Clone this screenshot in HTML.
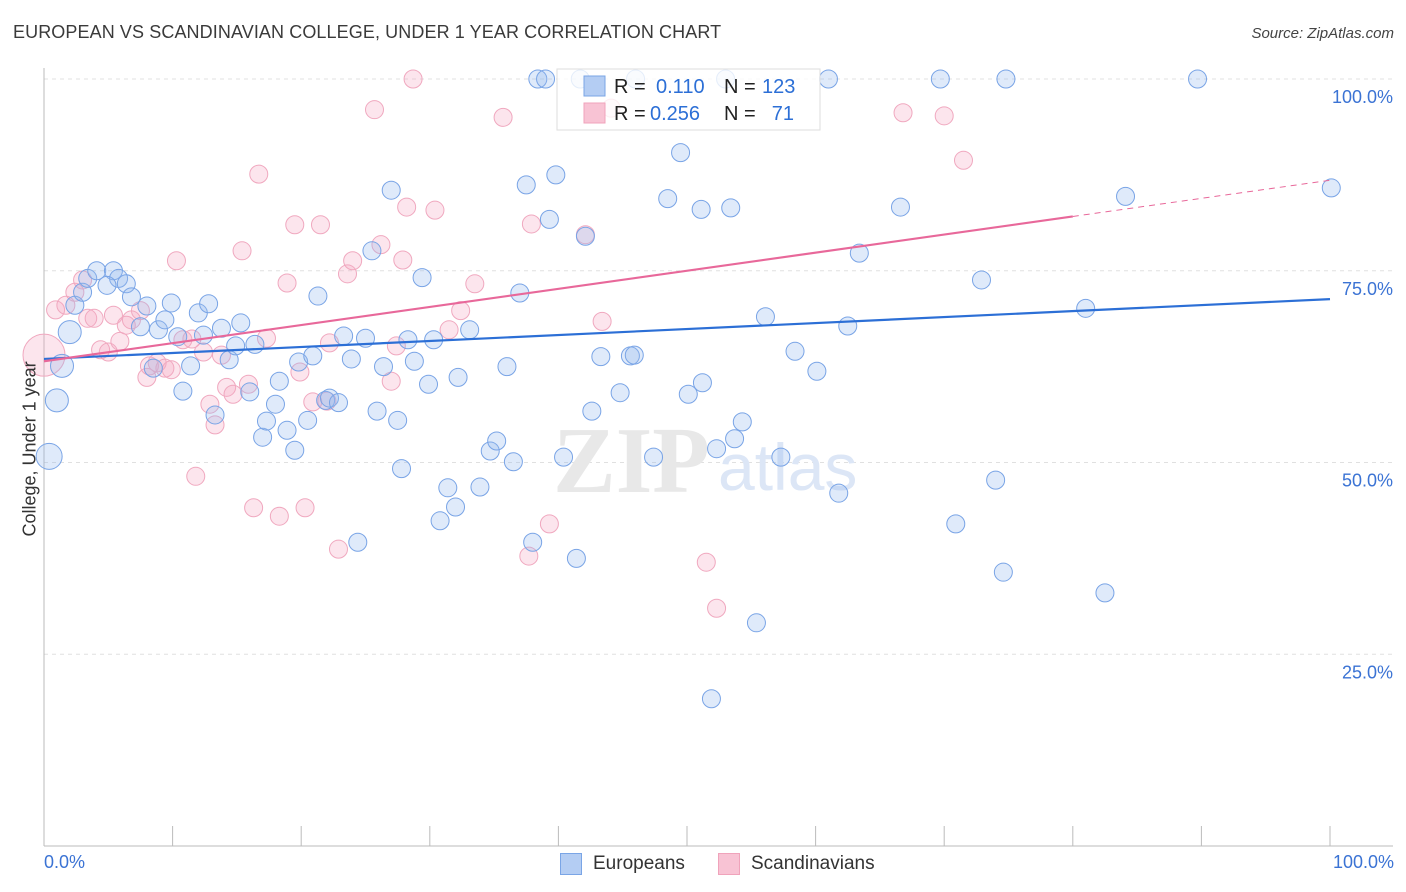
<!DOCTYPE html>
<html><head><meta charset="utf-8"><style>
body{margin:0;background:#fff;font-family:"Liberation Sans",sans-serif;}
#wrap{position:relative;width:1406px;height:892px;overflow:hidden;}
.t{position:absolute;white-space:nowrap;}
</style></head><body><div id="wrap">
<div class="t" style="left:13px;top:22px;font-size:18px;color:#3a3a3a;letter-spacing:0.1px">EUROPEAN VS SCANDINAVIAN COLLEGE, UNDER 1 YEAR CORRELATION CHART</div>
<div class="t" style="right:12px;top:25px;font-size:15px;color:#444;font-style:italic">Source: ZipAtlas.com</div>
<svg id="svg" width="1406" height="892" style="position:absolute;left:0;top:0"></svg>
</div>
<script>
const yTicks=[100,75,50,25];
const yTickLabels=["100.0%","75.0%","50.0%","25.0%"];
const euroX=[0.4,1,1.4,2,2.4,3,3.4,4.1,5.4,5.8,4.9,6.4,6.8,7.5,8,8.5,8.9,9.4,9.9,10.4,10.8,11.4,12,12.4,12.8,13.3,13.8,14.4,14.9,15.3,16,16.4,17,17.3,18,18.3,18.9,19.5,19.8,20.5,20.9,21.3,21.9,22.2,22.9,23.3,23.9,24.4,25,25.5,25.9,26.4,27,27.5,27.8,28.3,28.8,29.4,29.9,30.3,30.8,31.4,32,32.2,33.1,33.9,34.7,35.2,36,36.5,37,37.5,38,38.4,39,39.3,39.8,40.4,41.4,41.7,42.1,42.6,43.3,44.8,45.6,45.9,46,47.4,48.5,49.5,50.1,51.1,51.2,51.9,52.3,53,53.4,53.7,54.3,55.4,56.1,57.3,58.4,60.1,61,61.8,62.5,63.4,66.6,69.7,70.9,72.9,74,74.6,74.8,81,82.5,84.1,89.7,100.1];
const euroY=[50.8,58.1,62.6,67,70.5,72.2,74,75,75,74,73.1,73.3,71.6,67.7,70.4,62.3,67.3,68.6,70.8,66.4,59.3,62.6,69.5,66.6,70.7,56.2,67.5,63.4,65.2,68.2,59.2,65.4,53.3,55.4,57.6,60.6,54.2,51.6,63.1,55.5,63.9,71.7,58.1,58.4,57.8,66.5,63.5,39.6,66.2,77.6,56.7,62.5,85.5,55.5,49.2,66,63.2,74.1,60.2,66,42.4,46.7,44.2,61.1,67.3,46.8,51.5,52.8,62.5,50.1,72.1,86.2,39.6,100,100,81.7,87.5,50.7,37.5,100,79.5,56.7,63.8,59.1,63.9,64,100,50.7,84.4,90.4,58.9,83,60.4,19.2,51.8,100,83.2,53.1,55.3,29.1,69,50.7,64.5,61.9,100,46,67.8,77.3,83.3,100,42,73.8,47.7,35.7,100,70.1,33,84.7,100,85.8];
const scanX=[0,0.9,1.7,2.4,3,3.4,3.9,4.4,5,5.4,5.9,6.4,6.8,7.5,8,8.2,8.8,9.4,9.9,10.3,10.8,11.5,11.8,12.4,12.9,13.3,13.8,14.2,14.7,15.4,15.9,16.3,16.7,17.3,18.3,18.9,19.5,19.9,20.3,20.9,21.5,22,22.2,22.9,23.6,24,25.7,26.2,27,27.4,27.9,28.2,28.7,30.4,31.5,32.4,33.5,35.7,37.7,37.9,39.3,42.1,43.4,44.1,51.5,52.3,66.8,70,71.5];
const scanY=[64,69.9,70.5,72.2,73.8,68.8,68.8,64.7,64.4,69.2,65.8,67.9,68.6,69.8,61.1,62.6,63,62.3,62.1,76.3,66,66.1,48.2,64.4,57.6,54.9,64,59.8,58.9,77.6,60.2,44.1,87.6,66.2,43,73.4,81,61.8,44.1,57.9,81,58,65.6,38.7,74.6,76.3,96,78.4,60.6,65.2,76.4,83.3,100,82.9,67.3,69.8,73.3,95,37.8,81.1,42,79.7,68.4,96.2,37,31,95.6,95.2,89.4];
const euroTrend=[63.5,71.3];
const scanTrend=[63.2,86.8];
const scanSolidEnd=80;

const X0=44,X1=1330,Y0=846,Y100=79;
const sx=v=>X0+(X1-X0)*v/100;
const sy=v=>Y0-(Y0-Y100)*v/100;
const svg=document.getElementById('svg');
const NS='http://www.w3.org/2000/svg';
function mk(tag,attrs,parent){const e=document.createElementNS(NS,tag);for(const k in attrs)e.setAttribute(k,attrs[k]);(parent||svg).appendChild(e);return e;}

yTicks.forEach((t,i)=>{
  const g=mk('line',{x1:X0,x2:1393,y1:sy(t),y2:sy(t),stroke:'#e0e0e0','stroke-dasharray':'4,4','stroke-width':1});
  
  
  const tx=mk('text',{x:1393,y:sy(t)+24,'text-anchor':'end','font-size':18,fill:'#3b73d4','font-family':'Liberation Sans, sans-serif'});
  tx.textContent=yTickLabels[i];
  
  
});
const ax=mk('line',{x1:X0,x2:1393,y1:Y0,y2:Y0,stroke:'#bbb'});


const ay=mk('line',{x1:X0,x2:X0,y1:68,y2:Y0,stroke:'#bbb'});


for(let i=1;i<=10;i++){
  const tk=mk('line',{x1:sx(i*10),x2:sx(i*10),y1:826,y2:Y0,stroke:'#bbb'});
  
  
}
const wm=mk('text',{x:553,y:492,'font-size':94,fill:'#e8e8e8','font-family':'Liberation Serif, serif','font-weight':'bold'});
wm.textContent='ZIP';


const wm2=mk('text',{x:718,y:490,'font-size':66,fill:'#dce6f6','font-family':'Liberation Sans, sans-serif'});
wm2.textContent='atlas';



function big(x){return (x<2.2)?(x<0.5?13:11.5):9;}
scanX.forEach((x,i)=>{
  const c=mk('circle',{cx:sx(x),cy:sy(scanY[i]),r:i==0?21:9,fill:'rgba(246,170,195,0.3)',stroke:'#f0a8bf','stroke-width':1});
  
  
});
euroX.forEach((x,i)=>{
  const c=mk('circle',{cx:sx(x),cy:sy(euroY[i]),r:big(x),fill:'rgba(150,185,240,0.3)',stroke:'#79a4e6','stroke-width':1});
  
  
});
const bt=mk('line',{x1:sx(0),y1:sy(euroTrend[0]),x2:sx(100),y2:sy(euroTrend[1]),stroke:'#2c6fd6','stroke-width':2.2});


const pm=scanTrend[0]+(scanTrend[1]-scanTrend[0])*scanSolidEnd/100;
const pt=mk('line',{x1:sx(0),y1:sy(scanTrend[0]),x2:sx(scanSolidEnd),y2:sy(pm),stroke:'#e8689a','stroke-width':2.2});


const pd=mk('line',{x1:sx(scanSolidEnd),y1:sy(pm),x2:sx(100),y2:sy(scanTrend[1]),stroke:'#e8689a','stroke-width':1,'stroke-dasharray':'6,5'});



const lg=mk('g',{});


mk('rect',{x:557,y:69,width:263,height:61,fill:'rgba(255,255,255,0.8)',stroke:'#ddd'},lg);
mk('rect',{x:584,y:76,width:21,height:20,fill:'#b4cdf3',stroke:'#7aa5e6'},lg);
mk('rect',{x:584,y:103,width:21,height:20,fill:'#f8c3d4',stroke:'#f0a3bb'},lg);
function lt(x,y,s,c,a){const t=mk('text',{x:x,y:y,'font-size':20,fill:c,'font-family':'Liberation Sans, sans-serif','text-anchor':a||'start'},lg);t.textContent=s;}
lt(614,93,'R =','#222');lt(656,93,'0.110','#2c6fd6');lt(724,93,'N =','#222');lt(762,93,'123','#2c6fd6');
lt(614,120,'R =','#222');lt(650,120,'0.256','#2c6fd6');lt(724,120,'N =','#222');lt(794,120,'71','#2c6fd6','end');
</script>
<div class="t" style="left:-50px;top:446px;font-size:18px;color:#333;transform:rotate(-90deg);transform-origin:center;width:160px;text-align:center">College, Under 1 year</div>
<div class="t" style="left:44px;top:852px;font-size:18px;color:#3b73d4">0.0%</div>
<div class="t" style="right:12px;top:852px;font-size:18px;color:#3b73d4">100.0%</div>
<div style="position:absolute;left:560px;top:853px;display:flex;align-items:center">
<div style="width:20px;height:20px;background:#b4cdf3;border:1px solid #7aa5e6"></div><span style="margin-left:11px;font-size:19px;color:#333">Europeans</span></div>
<div style="position:absolute;left:718px;top:853px;display:flex;align-items:center">
<div style="width:20px;height:20px;background:#f8c3d4;border:1px solid #f0a3bb"></div><span style="margin-left:11px;font-size:19px;color:#333">Scandinavians</span></div>
</body></html>
